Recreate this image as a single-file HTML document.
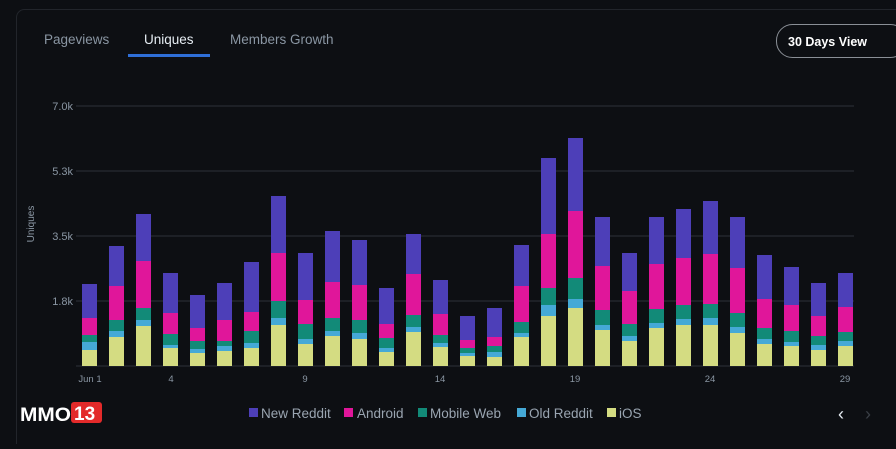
<!DOCTYPE html>
<html><head><style>
body{margin:0;width:896px;height:444px;background:#0d0f13;overflow:hidden;font-family:"Liberation Sans",sans-serif;}
</style></head><body>
<svg width="896" height="444" xmlns="http://www.w3.org/2000/svg" font-family="Liberation Sans, sans-serif">
<rect x="16.5" y="9.5" width="900" height="460" rx="8" fill="#0d0f13" stroke="#22252b"/>
<text x="44" y="44" fill="#8a96a3" font-size="13.5">Pageviews</text>
<text x="144" y="44" fill="#e6edf3" font-size="13.5">Uniques</text>
<rect x="128" y="54" width="82" height="3" fill="#2f6fd8"/>
<text x="230" y="44" fill="#8a96a3" font-size="13.5">Members Growth</text>
<rect x="776.5" y="24.5" width="130" height="33" rx="16" fill="none" stroke="#8a8f96"/>
<text x="788" y="46" fill="#fff" font-size="12.5" font-weight="bold">30 Days View</text>
<g stroke="#23262c" stroke-width="1.5">
<line x1="76" y1="106" x2="854" y2="106"/><line x1="76" y1="171" x2="854" y2="171"/>
<line x1="76" y1="236" x2="854" y2="236"/><line x1="76" y1="301" x2="854" y2="301"/>
<line x1="76" y1="366" x2="854" y2="366"/></g>
<g fill="#8a96a3" font-size="11" text-anchor="end">
<text x="73" y="110">7.0k</text><text x="73" y="175">5.3k</text><text x="73" y="240">3.5k</text><text x="73" y="305">1.8k</text></g>
<text transform="translate(34,224) rotate(-90)" fill="#8a96a3" font-size="10" text-anchor="middle">Uniques</text>
<g id="bars"></g>
<g fill="#8a96a3" font-size="9.5" text-anchor="middle">
<text x="90" y="382">Jun 1</text><text x="171" y="382">4</text><text x="305" y="382">9</text><text x="440" y="382">14</text><text x="575" y="382">19</text><text x="710" y="382">24</text><text x="845" y="382">29</text></g>
<g font-size="13.5" fill="#9aa5b1">
<rect x="249" y="408" width="9" height="9" fill="#4d3fb8"/><text x="261" y="418">New Reddit</text>
<rect x="344" y="408" width="9" height="9" fill="#e0169a"/><text x="357" y="418">Android</text>
<rect x="418" y="408" width="9" height="9" fill="#128a78"/><text x="430" y="418">Mobile Web</text>
<rect x="517" y="408" width="9" height="9" fill="#45a9d6"/><text x="529" y="418">Old Reddit</text>
<rect x="607" y="408" width="9" height="9" fill="#d4dc82"/><text x="619" y="418">iOS</text></g>
<text x="838" y="420" fill="#e6edf3" font-size="18">‹</text>
<text x="865" y="420" fill="#3a3f46" font-size="18">›</text>
<text x="20" y="421" fill="#fff" font-size="19" font-weight="bold" textLength="51" lengthAdjust="spacingAndGlyphs">MMO</text>
<rect x="71" y="402" width="31" height="21" rx="3" fill="#e32a2a"/>
<text x="74" y="420" fill="#fff" font-size="19" font-weight="bold">13</text>
</svg>
<script>
var d=[[284,318,335,342,350],[246,286,320,331,337],[214,261,308,320,326],[273,313,334,345,348],[295,328,341,349,353],[283,320,341,346,351],[262,312,331,343,348],[196,253,301,318,325],[253,300,324,339,344],[231,282,318,331,336],[240,285,320,333,339],[288,324,338,348,352],[234,274,315,327,332],[280,314,335,343,347],[316,340,348,353,356],[308,337,346,352,357],[245,286,322,333,337],[158,234,288,305,316],[138,211,278,299,308],[217,266,310,325,330],[253,291,324,336,341],[217,264,309,323,328],[209,258,305,319,325],[201,254,304,318,325],[217,268,313,327,333],[255,299,328,339,344],[267,305,331,342,346],[283,316,336,345,350],[273,307,332,341,346]];
var c=["#4d3fb8","#e0169a","#128a78","#45a9d6","#d4dc82"],s="";
d.forEach(function(b,i){var x=82+i*27.0;for(var k=0;k<5;k++){var y=b[k],y2=k<4?b[k+1]:366;s+='<rect x="'+x+'" y="'+y+'" width="15" height="'+(y2-y)+'" fill="'+c[k]+'"/>';}});
document.getElementById("bars").innerHTML=s;
</script>
</body></html>
